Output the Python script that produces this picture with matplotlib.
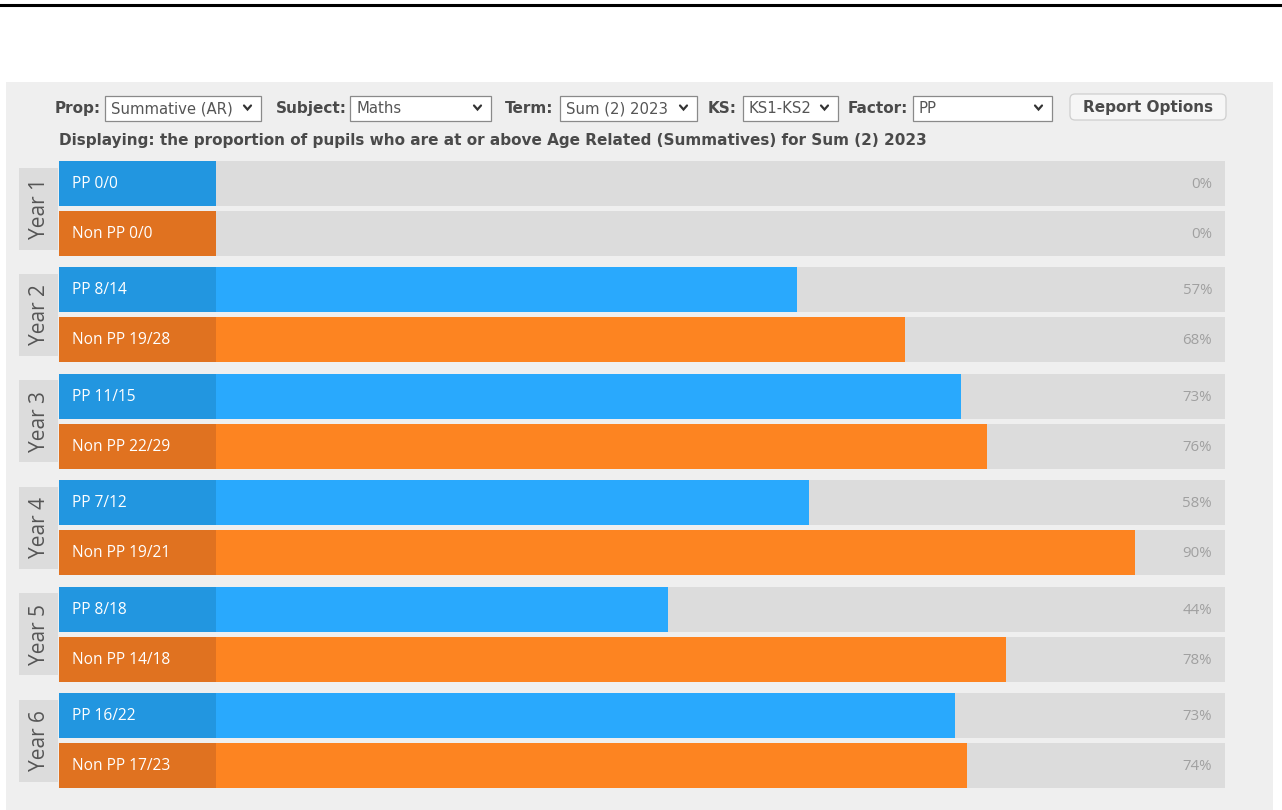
import matplotlib
matplotlib.use("Agg")
import matplotlib.pyplot as plt
from matplotlib.patches import Rectangle, FancyBboxPatch
from matplotlib.lines import Line2D

# ---------------- data ----------------
years = ["Year 1", "Year 2", "Year 3", "Year 4", "Year 5", "Year 6"]
pp_achieved = [0, 8, 11, 7, 8, 16]
pp_total = [0, 14, 15, 12, 18, 22]
nonpp_achieved = [0, 19, 22, 19, 14, 17]
nonpp_total = [0, 28, 29, 21, 18, 23]
group_names = ["PP", "Non PP"]

controls = [("Prop:", "Summative (AR)"), ("Subject:", "Maths"), ("Term:", "Sum (2) 2023"),
            ("KS:", "KS1-KS2"), ("Factor:", "PP")]
button_text = "Report Options"
subtitle = "Displaying: the proportion of pupils who are at or above Age Related (Summatives) for Sum (2) 2023"

# ---------------- style ----------------
W, H = 1282, 810
FONT = "Open Sans"
HDR_FONT = "DejaVu Sans"
HDR_SIZE = 11.0
BG = "#efefef"
TRACK = "#dcdcdc"
LABEL_COLORS = ["#2296e0", "#e07220"]
FILL_COLORS = ["#29a9fd", "#fd8421"]

fig = plt.figure(figsize=(W / 100, H / 100), dpi=100)
fig.patch.set_facecolor("white")


def fx(x):
    return x / W


def fy(y):
    return 1 - y / H


def fig_rect(x0, y0, x1, y1, fc, ec="none", lw=1.0, round_=0, z=-1):
    if round_:
        p = FancyBboxPatch((fx(x0), fy(y1)), fx(x1) - fx(x0), fy(y0) - fy(y1),
                           boxstyle=f"round,pad=0,rounding_size={round_ / W}",
                           transform=fig.transFigure, fc=fc, ec=ec, lw=lw, zorder=z,
                           mutation_aspect=W / H)
    else:
        p = Rectangle((fx(x0), fy(y1)), fx(x1) - fx(x0), fy(y0) - fy(y1),
                      transform=fig.transFigure, fc=fc, ec=ec, lw=lw, zorder=z)
    fig.patches.append(p)


# top rule
fig.lines.append(Line2D([0, 1], [fy(5), fy(5)], transform=fig.transFigure, color="black", lw=2.2))
# panel
fig_rect(6, 82, 1273, 810, BG, z=-2)

# controls row
label_x = [55, 276, 505, 708, 848]
box_x = [(105, 261), (350, 491), (560, 697), (743, 838), (913, 1052)]
for (lab, val), lx, (bx0, bx1) in zip(controls, label_x, box_x):
    fig.text(fx(lx), fy(108.5), lab, fontsize=HDR_SIZE, fontweight="bold", color="#4a4a4a",
             family=HDR_FONT, va="center", ha="left")
    fig_rect(bx0, 96, bx1, 121, "white", ec="#8a8a8a", lw=0.9, z=-1)
    fig.text(fx(bx0 + 6), fy(108.5), val, fontsize=HDR_SIZE - 0.3, color="#555555",
             family=HDR_FONT, va="center", ha="left")
    cx = bx1 - 13.5
    fig.lines.append(Line2D([fx(cx - 3.5), fx(cx), fx(cx + 3.5)], [fy(105.5), fy(109.5), fy(105.5)],
                            transform=fig.transFigure, color="#333333", lw=1.6,
                            solid_capstyle="round", solid_joinstyle="miter"))

fig_rect(1070, 94, 1226, 120, "#f6f6f6", ec="#cfcfcf", lw=0.9, round_=5, z=-1)
fig.text(fx(1148), fy(107.5), button_text, fontsize=HDR_SIZE, fontweight="bold", color="#4a4a4a",
         family=HDR_FONT, va="center", ha="center")

fig.text(fx(59), fy(141), subtitle, fontsize=HDR_SIZE, fontweight="bold", color="#4a4a4a",
         family=HDR_FONT, va="center", ha="left")

# ---------------- bar chart axes ----------------
AX_L, AX_R, AX_T, AX_B = 19, 1225, 161, 788
BAR0 = 216          # pixel where 0% sits
px_per_unit = 10.16  # pixels per percentage point
xmin = -(BAR0 - AX_L) / px_per_unit
xmax = (AX_R - BAR0) / px_per_unit
label_left = -(BAR0 - 59) / px_per_unit
year_right = -(BAR0 - 57.5) / px_per_unit

ax = fig.add_axes([fx(AX_L), fy(AX_B), fx(AX_R) - fx(AX_L), fy(AX_T) - fy(AX_B)])
ax.set_facecolor("none")
ax.axis("off")
ax.set_zorder(2)

pitch = 2.128
bar_h = 0.9
n = len(years)
ax.set_xlim(xmin, xmax)
ax.set_ylim((n - 1) * pitch + 1 + bar_h / 2, -bar_h / 2)

series = [(pp_achieved, pp_total), (nonpp_achieved, nonpp_total)]
for g in range(n):
    base = g * pitch
    # year tab
    ax.barh(base + 0.5, year_right - xmin, left=xmin, height=1.64, color=TRACK, zorder=1)
    ax.text((xmin + year_right) / 2 + 0.1, base + 0.5, years[g], rotation=90, ha="center",
            va="center", fontsize=15, color="#555555", family=FONT)
    for s, (ach, tot) in enumerate(series):
        y = base + s
        frac = ach[g] / tot[g] if tot[g] else 0.0
        pct = frac * 100
        ax.barh(y, xmax, left=0, height=bar_h, color=TRACK, zorder=1)
        ax.barh(y, -label_left, left=label_left, height=bar_h, color=LABEL_COLORS[s], zorder=2)
        if pct > 0:
            ax.barh(y, pct, left=0, height=bar_h, color=FILL_COLORS[s], zorder=2)
        ax.text(label_left + 13 / px_per_unit, y + 0.01, f"{group_names[s]} {ach[g]}/{tot[g]}",
                ha="left", va="center", color="white", fontsize=11.2, family=FONT, zorder=3)
        ax.text(xmax - 13 / px_per_unit, y + 0.02, f"{round(pct)}%", ha="right", va="center",
                color="#a0a0a0", fontsize=10.8, family=FONT, zorder=3)

fig.savefig("out.png", dpi=100, facecolor=fig.get_facecolor())
